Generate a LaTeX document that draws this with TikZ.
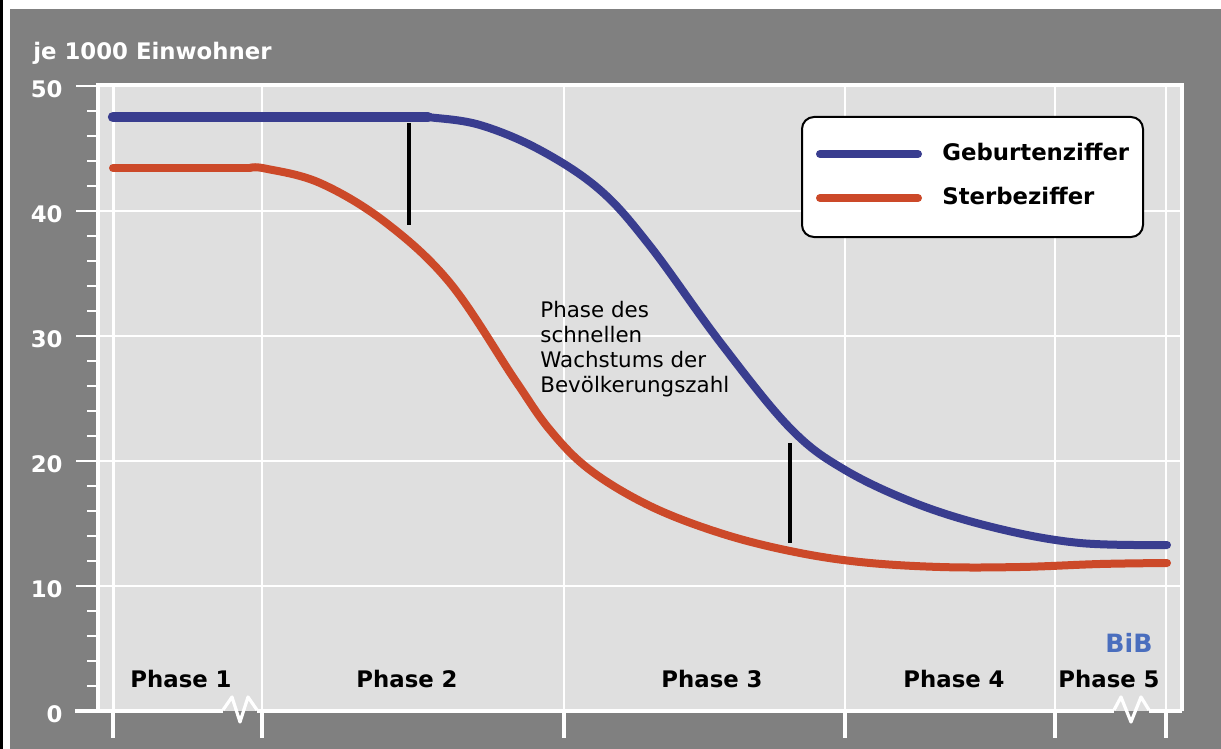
\documentclass[tikz,border=0pt]{standalone}
\usepackage{fontspec}
\setmainfont{DejaVu Sans}
\definecolor{bgrey}{RGB}{128,128,128}
\definecolor{pgrey}{RGB}{223,223,223}
\definecolor{gebblue}{RGB}{57,61,143}
\definecolor{sterbred}{RGB}{204,73,41}
\definecolor{bibblue}{RGB}{74,110,190}

\begin{document}
\begin{tikzpicture}[x=0.5pt, y=-0.5pt,
    lbl/.style={inner sep=0pt, font=\bfseries\fontsize{11.4}{13}\selectfont},
    ylbl/.style={lbl, white, anchor=east},
    note/.style={inner sep=0pt, align=left, font=\fontsize{10.7}{12.5}\selectfont},
    gridline/.style={white, line width=1pt},
    tickline/.style={white, line width=1.4pt}]
    \useasboundingbox (0,0) rectangle (1221,749);
    \fill[white] (0,0) rectangle (1221,749);
    \fill[bgrey] (10,9) rectangle (1221,749);
    \fill[black] (0,0) rectangle (3,749);
    % plot area
    \fill[pgrey] (98,85) rectangle (1182,711);
    \draw[gridline] (98,586) -- (1182,586) (98,461) -- (1182,461) (98,336) -- (1182,336) (98,211) -- (1182,211);
    \draw[gridline] (262,85) -- (262,711) (564,85) -- (564,711) (845,85) -- (845,711) (1055,85) -- (1055,711) (1166,85) -- (1166,711);
    \draw[white, line width=1.5pt] (113,85) -- (113,711);
    \draw[white, line width=1.6pt] (98,711) -- (98,85) -- (1182,85) -- (1182,711);
    % y axis ticks
    \draw[tickline] (76,86) -- (97,86) (76,211) -- (97,211) (76,336) -- (97,336) (76,461) -- (97,461) (76,586) -- (97,586);
    \draw[tickline] (87,111) -- (97,111) (87,136) -- (97,136) (87,161) -- (97,161) (87,186) -- (97,186)
                    (87,236) -- (97,236) (87,261) -- (97,261) (87,286) -- (97,286) (87,311) -- (97,311)
                    (87,361) -- (97,361) (87,386) -- (97,386) (87,411) -- (97,411) (87,436) -- (97,436)
                    (87,486) -- (97,486) (87,511) -- (97,511) (87,536) -- (97,536) (87,561) -- (97,561)
                    (87,611) -- (97,611) (87,636) -- (97,636) (87,661) -- (97,661) (87,686) -- (97,686);
    \node[ylbl] (y50) at (63,89) {50};
    \node[ylbl] (y40) at (63,214) {40};
    \node[ylbl] (y30) at (63,339) {30};
    \node[ylbl] (y20) at (63,464) {20};
    \node[ylbl] (y10) at (63,589) {10};
    \node[ylbl] (y0) at (63,714) {0};
    % x axis with breaks
    \draw[white, line width=2.2pt] (75,711) -- (223,711) (257,711) -- (1114,711) (1149,711) -- (1182,711);
    \draw[white, line width=1.6pt, line join=round] (223,710) -- (232,697) -- (240,722) -- (248,697) -- (257,710);
    \draw[white, line width=1.6pt, line join=round] (1114,710) -- (1121,697) -- (1131,722) -- (1141,697) -- (1149,710);
    \draw[white, line width=2pt] (113,711) -- (113,738) (262,711) -- (262,738) (564,711) -- (564,738) (845,711) -- (845,738) (1055,711) -- (1055,738) (1166,711) -- (1166,738);
    \node[lbl, white, anchor=base west] (unit) at (33,60) {je 1000 Einwohner};
    % curves
    \draw[sterbred, line width=4pt, line cap=round] (113,168) -- (250,168);
    \draw[sterbred, line width=4pt, line cap=round] plot[smooth, tension=0.6] coordinates {(250,168) (265,168.5) (320,183) (385,222) (450,283) (515,380) (550,430) (590,470) (650,506) (720,533) (790,551) (860,562) (940,567) (1020,567) (1100,564) (1167,563)};
    \draw[gebblue, line width=4pt, line cap=round] plot[smooth, tension=0.6] coordinates {(420,117) (430,117.3) (480,125) (540,150) (600,190) (650,246) (720,342) (790,428) (845,470) (920,505) (1000,529) (1080,543) (1167,545)};
    \draw[gebblue, line width=5.2pt, line cap=round] (113,117) -- (428,117);
    \draw[black, line width=2.3pt] (409,123) -- (409,225);
    \draw[black, line width=2.3pt] (790,443) -- (790,543);
    \node[note, anchor=north west] (phasetext) at (540,301) {Phase des\\schnellen\\Wachstums der\\Bevölkerungszahl};
    % legend
    \draw[black, line width=1pt, fill=white, rounded corners=6pt] (802,117) rectangle (1143,237);
    \draw[gebblue, line width=4pt, line cap=round] (820,154) -- (918,154);
    \draw[sterbred, line width=4pt, line cap=round] (820,198) -- (918,198);
    \node[lbl, anchor=base west] (geb) at (942,161) {Geburtenziffer};
    \node[lbl, anchor=base west] (sterb) at (942,205) {Sterbeziffer};
    % phases
    \node[lbl, anchor=base] (ph1) at (181,687) {Phase 1};
    \node[lbl, anchor=base] (ph2) at (407,687) {Phase 2};
    \node[lbl, anchor=base] (ph3) at (712,687) {Phase 3};
    \node[lbl, anchor=base] (ph4) at (954,687) {Phase 4};
    \node[lbl, anchor=base] (ph5) at (1109,687) {Phase 5};
    \node[lbl, bibblue, anchor=base west, font=\bfseries\fontsize{12.6}{14}\selectfont] (bib) at (1105,652) {BiB};
\end{tikzpicture}
\end{document}
